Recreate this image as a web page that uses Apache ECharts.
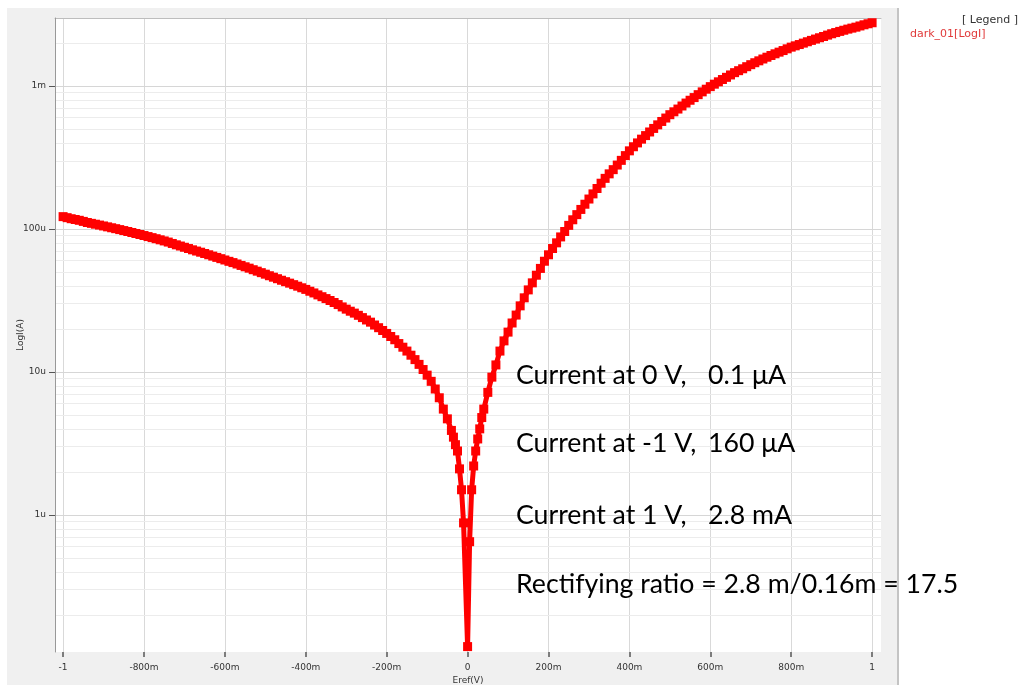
<!DOCTYPE html>
<html><head><meta charset="utf-8">
<script src="https://cdn.jsdelivr.net/npm/echarts@6/dist/echarts.min.js"></script>
<style>html,body{margin:0;padding:0;background:#fff}#c{width:1029px;height:685px}</style>
</head><body><div id="c"></div>
<script>
// Eref (V)
const voltage = [
  -1.00,-0.99,-0.98,-0.97,-0.96,-0.95,-0.94,-0.93,-0.92,-0.91,
  -0.90,-0.89,-0.88,-0.87,-0.86,-0.85,-0.84,-0.83,-0.82,-0.81,
  -0.80,-0.79,-0.78,-0.77,-0.76,-0.75,-0.74,-0.73,-0.72,-0.71,
  -0.70,-0.69,-0.68,-0.67,-0.66,-0.65,-0.64,-0.63,-0.62,-0.61,
  -0.60,-0.59,-0.58,-0.57,-0.56,-0.55,-0.54,-0.53,-0.52,-0.51,
  -0.50,-0.49,-0.48,-0.47,-0.46,-0.45,-0.44,-0.43,-0.42,-0.41,
  -0.40,-0.39,-0.38,-0.37,-0.36,-0.35,-0.34,-0.33,-0.32,-0.31,
  -0.30,-0.29,-0.28,-0.27,-0.26,-0.25,-0.24,-0.23,-0.22,-0.21,
  -0.20,-0.19,-0.18,-0.17,-0.16,-0.15,-0.14,-0.13,-0.12,-0.11,
  -0.10,-0.09,-0.08,-0.07,-0.06,-0.05,-0.04,-0.035,-0.03,-0.025,
  -0.02,-0.015,-0.01,0.00,0.005,0.01,0.015,0.02,0.025,0.03,
  0.035,0.04,0.05,0.06,0.07,0.08,0.09,
  0.10,0.11,0.12,0.13,0.14,0.15,0.16,0.17,0.18,0.19,
  0.20,0.21,0.22,0.23,0.24,0.25,0.26,0.27,0.28,0.29,
  0.30,0.31,0.32,0.33,0.34,0.35,0.36,0.37,0.38,0.39,
  0.40,0.41,0.42,0.43,0.44,0.45,0.46,0.47,0.48,0.49,
  0.50,0.51,0.52,0.53,0.54,0.55,0.56,0.57,0.58,0.59,
  0.60,0.61,0.62,0.63,0.64,0.65,0.66,0.67,0.68,0.69,
  0.70,0.71,0.72,0.73,0.74,0.75,0.76,0.77,0.78,0.79,
  0.80,0.81,0.82,0.83,0.84,0.85,0.86,0.87,0.88,0.89,
  0.90,0.91,0.92,0.93,0.94,0.95,0.96,0.97,0.98,0.99,
  1.00
];
// |I| in microamps
const currentMicroA = [
  122,120,118,116.5,115,113,111,109.5,108,106.5,
  105,103.5,102,100.5,99,97.5,96,94.5,93,91.5,
  90,88.5,87,85.5,84,82.5,81,79.2,77.5,76,
  74.5,73,71.5,70.1,68.8,67.4,66,64.6,63.3,62,
  60.7,59.4,58.2,56.9,55.6,54.4,53.2,51.9,50.7,49.5,
  48.3,47.1,46,44.9,43.8,42.8,41.8,40.8,39.8,38.8,
  37.8,36.7,35.7,34.6,33.6,32.6,31.6,30.6,29.6,28.5,
  27.5,26.6,25.8,24.9,24,23.1,22.3,21.3,20.4,19.5,
  18.6,17.7,16.8,15.8,14.9,14,13.1,12.2,11.3,10.4,
  9.5,8.6,7.6,6.6,5.5,4.7,3.9,3.5,3.1,2.8,
  2.1,1.5,0.88,0.12,0.65,1.5,2.2,2.8,3.4,4.0,
  4.8,5.5,7.2,9.2,11.2,14,16.5,
  19,22,25,29,33,37.5,42,47.5,53,59.5,
  66,73,80,88,96,106,116,126,137,149,
  162,176,192,209,226,243,260,280,302,326,
  352,376,400,425,450,477,505,535,565,597,
  630,660,690,725,760,795,830,870,910,950,
  990,1030,1070,1110,1150,1195,1240,1280,1320,1365,
  1410,1455,1500,1545,1590,1635,1680,1725,1770,1820,
  1870,1910,1950,1995,2040,2085,2130,2175,2220,2270,
  2320,2365,2410,2455,2500,2540,2580,2630,2680,2725,
  2770
];
const seriesName = 'dark_01[LogI]';
const xTickValues = [-1,-0.8,-0.6,-0.4,-0.2,0,0.2,0.4,0.6,0.8,1];
const xTickLabels = ['-1','-800m','-600m','-400m','-200m','0','200m','400m','600m','800m','1'];
const yTickValues = [1e-6,1e-5,1e-4,1e-3];
const yTickLabels = ['1u','10u','100u','1m'];
const yMinorValues = [
  2e-7,3e-7,4e-7,5e-7,6e-7,7e-7,8e-7,9e-7,
  2e-6,3e-6,4e-6,5e-6,6e-6,7e-6,8e-6,9e-6,
  2e-5,3e-5,4e-5,5e-5,6e-5,7e-5,8e-5,9e-5,
  2e-4,3e-4,4e-4,5e-4,6e-4,7e-4,8e-4,9e-4,
  2e-3
];
const noteLabels = ['Current at 0 V,','Current at -1 V,','Current at 1 V,'];
const noteValues = ['0.1 \u03bcA','160 \u03bcA','2.8 mA'];
const ratioNote = 'Rectifying ratio = 2.8 m/0.16m = 17.5';

const data = voltage.map((v,i)=>[v, currentMicroA[i]*1e-6]);
const fmtX = v => { const k = xTickValues.findIndex(t=>Math.abs(t-v)<1e-9); return k>=0 ? xTickLabels[k] : ''; };
const fmtY = v => { const k = yTickValues.findIndex(t=>Math.abs(Math.log10(t)-Math.log10(v))<1e-6); return k>=0 ? yTickLabels[k] : ''; };

const noteFont = {fontFamily:'Lato', fontSize:26.7, fill:'#000'};
const noteY = [375,443,515];
const graphics = [
  {type:'rect', shape:{x:0,y:0,width:7,height:685}, style:{fill:'#fff'}, z:0, silent:true},
  {type:'rect', shape:{x:0,y:0,width:1029,height:8}, style:{fill:'#fff'}, z:0, silent:true},
  {type:'rect', shape:{x:897,y:0,width:132,height:685}, style:{fill:'#fff'}, z:0, silent:true},
  {type:'line', shape:{x1:898,y1:8,x2:898,y2:685}, style:{stroke:'#c4c4c4', lineWidth:2}, z:1, silent:true},
  {type:'text', x:1018, y:20, style:{text:'[ Legend ]', fontFamily:'DejaVu Sans', fontSize:11, fill:'#333', align:'right', verticalAlign:'middle'}, z:5}
];
noteLabels.forEach((t,i)=>{
  graphics.push({type:'text', x:516, y:noteY[i], z:100, style:Object.assign({text:t, align:'left', verticalAlign:'middle'}, noteFont)});
  graphics.push({type:'text', x:708, y:noteY[i], z:100, style:Object.assign({text:noteValues[i], align:'left', verticalAlign:'middle'}, noteFont)});
});
graphics.push({type:'text', x:516, y:584, z:100, style:Object.assign({text:ratioNote, align:'left', verticalAlign:'middle'}, noteFont)});

const yRange = {min:1.1e-7, max:2.99e-3};

const chart = echarts.init(document.getElementById('c'), null, {renderer:'canvas'});
chart.setOption({
  animation:false,
  backgroundColor:'#f0f0f0',
  textStyle:{fontFamily:'DejaVu Sans'},
  grid:{left:55, top:18, width:826, height:634, show:true, backgroundColor:'#fff', borderWidth:0,
        containLabel:false, outerBoundsMode:'none'},
  legend:{data:[seriesName], left:905, top:29, icon:'none', itemWidth:0, itemHeight:0, itemGap:0, padding:0,
    textStyle:{color:'#e03a3a', fontSize:11, fontFamily:'DejaVu Sans'}, selectedMode:false, z:10},
  xAxis:[{
    type:'value', min:-1.02, max:1.022, position:'bottom',
    name:'Eref(V)', nameLocation:'middle', nameGap:24, nameMoveOverlap:false,
    nameTextStyle:{fontSize:9, color:'#333', fontFamily:'DejaVu Sans'},
    axisLine:{show:false},
    axisTick:{show:true, length:5, lineStyle:{color:'#555', width:1.5}, customValues:xTickValues},
    axisLabel:{customValues:xTickValues, formatter:fmtX, fontSize:9, color:'#333', margin:11, fontFamily:'DejaVu Sans'},
    splitLine:{show:true, lineStyle:{color:'#d9d9d9', width:1}}
  },{
    type:'value', min:-1.02, max:1.022, position:'top',
    axisLine:{show:true, onZero:false, lineStyle:{color:'#bdbdbd', width:1}},
    axisTick:{show:false}, axisLabel:{show:false}, splitLine:{show:false}
  }],
  yAxis:[{
    type:'log', logBase:10, min:yRange.min, max:yRange.max, position:'left', z:3,
    name:'LogI(A)', nameLocation:'middle', nameGap:30, nameRotate:90, nameMoveOverlap:false,
    nameTextStyle:{fontSize:9, color:'#333', fontFamily:'DejaVu Sans'},
    axisLine:{show:true, onZero:false, lineStyle:{color:'#999', width:1}},
    axisTick:{show:true, length:6, lineStyle:{color:'#555', width:1}, customValues:yTickValues},
    axisLabel:{customValues:yTickValues, formatter:fmtY, fontSize:9, color:'#333', margin:9, fontFamily:'DejaVu Sans'},
    splitLine:{show:true, lineStyle:{color:'#d6d6d6', width:1}},
    minorTick:{show:false}, minorSplitLine:{show:false}
  },{
    type:'log', logBase:10, min:yRange.min, max:yRange.max, position:'right', z:1,
    axisLine:{show:false}, axisLabel:{show:false},
    axisTick:{show:false, customValues:yMinorValues},
    splitLine:{show:true, lineStyle:{color:'#ececec', width:1}},
    minorTick:{show:false}, minorSplitLine:{show:false}
  }],
  graphic:graphics,
  series:[
    {
      name:seriesName, type:'line', data:data, z:3, yAxisIndex:0,
      symbol:'rect', symbolSize:9, showSymbol:true, showAllSymbol:true,
      itemStyle:{color:'#ff0000'}, lineStyle:{color:'#ff0000', width:5},
      clip:true
    }
  ]
});
</script></body></html>
